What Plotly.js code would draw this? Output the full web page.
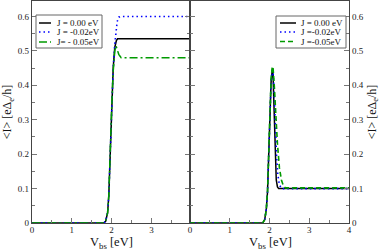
<!DOCTYPE html>
<html>
<head>
<meta charset="utf-8">
<script src="https://cdn.plot.ly/plotly-3.0.1.min.js"></script>
<style>html,body{margin:0;padding:0;background:#fff;}#chart{width:382px;height:251px;}</style>
</head>
<body>
<div id="chart"></div>
<script>
// ---- data ----
var legendLeft = ["J = 0.00 eV", "J = -0.02eV", "J= - 0.05eV"];
var legendRight = ["J = 0.00 eV", "J =-0.02eV", "J =-0.05eV"];
var xAxisTitle = "V<sub>bs</sub> [eV]";
var yAxisTitle = "&lt;I&gt; [eΔ<sub>e</sub>/h]";

var xL0 = [0, 1.8, 1.85, 1.9, 1.93, 1.96, 2.0, 2.04, 2.08, 2.12, 2.15, 3.97];
var yL0 = [0, 0, 0.005, 0.03, 0.08, 0.2, 0.33, 0.45, 0.51, 0.53, 0.535, 0.535];
var xL1 = [0, 1.8, 1.85, 1.9, 1.93, 1.96, 2.0, 2.04, 2.08, 2.11, 2.14, 2.18, 2.22, 3.97];
var yL1 = [0, 0, 0.005, 0.03, 0.08, 0.2, 0.33, 0.45, 0.52, 0.56, 0.585, 0.598, 0.60, 0.60];
var xL2 = [0, 1.8, 1.85, 1.9, 1.93, 1.96, 2.0, 2.04, 2.08, 2.11, 2.14, 2.18, 2.24, 3.97];
var yL2 = [0, 0, 0.005, 0.03, 0.08, 0.2, 0.33, 0.44, 0.50, 0.515, 0.505, 0.49, 0.48, 0.48];

var xR0 = [0, 1.83, 1.88, 1.92, 1.95, 1.98, 2.01, 2.04, 2.07, 2.09, 2.11, 2.13, 2.15, 2.17, 2.2, 2.23, 4];
var yR0 = [0, 0, 0.01, 0.04, 0.09, 0.2, 0.32, 0.41, 0.445, 0.43, 0.35, 0.25, 0.17, 0.125, 0.105, 0.1, 0.1];
var xR1 = [0, 1.83, 1.88, 1.92, 1.95, 1.98, 2.01, 2.04, 2.07, 2.09, 2.12, 2.15, 2.18, 2.21, 2.25, 2.31, 4];
var yR1 = [0, 0, 0.01, 0.04, 0.09, 0.2, 0.32, 0.41, 0.45, 0.44, 0.37, 0.27, 0.19, 0.14, 0.11, 0.1, 0.1];
var xR2 = [0, 1.83, 1.88, 1.92, 1.95, 1.98, 2.01, 2.04, 2.07, 2.09, 2.12, 2.16, 2.2, 2.25, 2.3, 2.35, 2.4, 4];
var yR2 = [0, 0, 0.01, 0.04, 0.09, 0.2, 0.32, 0.42, 0.455, 0.45, 0.40, 0.31, 0.23, 0.16, 0.125, 0.108, 0.102, 0.102];

// ---- styles ----
var FONT = "'Liberation Serif', 'Times New Roman', serif";
var styleL = [
  {color: "#000000", dash: "solid", width: 1.5},
  {color: "#0000ff", dash: "1.5px,3px", width: 1.6},
  {color: "#009a00", dash: "8px,3px,2px,3px", width: 1.5}
];
var styleR = [
  {color: "#000000", dash: "solid", width: 1.5},
  {color: "#0000ff", dash: "1.5px,3px", width: 1.6},
  {color: "#009a00", dash: "5px,3px", width: 1.6}
];

var leftX = [xL0, xL1, xL2], leftY = [yL0, yL1, yL2];
var rightX = [xR0, xR1, xR2], rightY = [yR0, yR1, yR2];

var traces = [];
for (var i = 0; i < 3; i++) {
  traces.push({x: leftX[i], y: leftY[i], xaxis: "x", yaxis: "y", mode: "lines",
    name: legendLeft[i], showlegend: false, line: styleL[i]});
}
for (var j = 0; j < 3; j++) {
  traces.push({x: rightX[j], y: rightY[j], xaxis: "x2", yaxis: "y2", mode: "lines",
    name: legendRight[j], showlegend: false, line: styleR[j]});
}

var W = 382, H = 251, ML = 32, MR = 33, MT = 1, MB = 28;
var PW = W - ML - MR, PH = H - MT - MB;
function px(x) { return (x - ML) / PW; }
function py(y) { return (H - MB - y) / PH; }
var split = px(190);

var axisCommon = {
  showgrid: false, zeroline: false, showline: true, linecolor: "#444", linewidth: 1.2,
  ticks: "inside", ticklen: 5, tickcolor: "#777", tickwidth: 1,
  tickfont: {family: FONT, size: 9, color: "#222"},
  automargin: false
};
function ax(extra) { var o = {}; for (var k in axisCommon) o[k] = axisCommon[k]; for (var k2 in extra) o[k2] = extra[k2]; return o; }

var yTitle = {text: yAxisTitle, font: {family: FONT, size: 12, color: "#111"}, standoff: 4};

// manual legends + x titles
var shapes = [], annotations = [];
function makeLegend(box, rowsY, lineX0, lineX1, textX, labels, styles) {
  shapes.push({type: "rect", xref: "paper", yref: "paper",
    x0: px(box[0]), x1: px(box[1]), y0: py(box[3]), y1: py(box[2]),
    line: {color: "#666", width: 1}, fillcolor: "#fff"});
  for (var r = 0; r < labels.length; r++) {
    shapes.push({type: "line", xref: "paper", yref: "paper",
      x0: px(lineX0), x1: px(lineX1), y0: py(rowsY[r]), y1: py(rowsY[r]),
      line: {color: styles[r].color, dash: styles[r].dash, width: styles[r].width}});
    annotations.push({xref: "paper", yref: "paper", x: px(textX), y: py(rowsY[r]),
      xanchor: "left", yanchor: "middle", showarrow: false, text: labels[r],
      font: {family: FONT, size: 9, color: "#111"}});
  }
}
makeLegend([36, 102, 15, 48], [23, 32, 42], 39, 51, 55, legendLeft, styleL);
makeLegend([276, 346, 16, 48], [23, 32, 41.5], 280, 296, 299, legendRight, styleR);

annotations.push({xref: "paper", yref: "paper", x: px(111), y: py(252), xanchor: "center", yanchor: "bottom",
  showarrow: false, text: xAxisTitle, borderpad: 0, font: {family: FONT, size: 12.5, color: "#111"}});
annotations.push({xref: "paper", yref: "paper", x: px(270), y: py(252), xanchor: "center", yanchor: "bottom",
  showarrow: false, text: xAxisTitle, borderpad: 0, font: {family: FONT, size: 12.5, color: "#111"}});

var layout = {
  width: W, height: H,
  margin: {l: ML, r: MR, t: MT, b: MB, pad: 0},
  paper_bgcolor: "#fff", plot_bgcolor: "#fff",
  showlegend: false,
  font: {family: FONT},
  xaxis: ax({domain: [0, split], range: [0, 3.97], dtick: 1, tick0: 0, mirror: true,
    ticklabelstandoff: -2,
    minor: {dtick: 0.5, ticks: "inside", ticklen: 3, tickcolor: "#777"},
    anchor: "y"}),
  xaxis2: ax({domain: [split, 1], range: [0, 4], dtick: 1, tick0: 0, mirror: true,
    ticklabelstandoff: -2,
    minor: {dtick: 0.5, ticks: "inside", ticklen: 3, tickcolor: "#777"},
    anchor: "y2"}),
  yaxis: ax({range: [0, 0.645], dtick: 0.1, tick0: 0, mirror: "ticks", anchor: "x",
    minor: {dtick: 0.05, ticks: "inside", ticklen: 3, tickcolor: "#777"},
    title: yTitle}),
  yaxis2: ax({range: [0, 0.645], dtick: 0.1, tick0: 0, mirror: "ticks", anchor: "x2", side: "right",
    minor: {dtick: 0.05, ticks: "inside", ticklen: 3, tickcolor: "#777"},
    title: yTitle}),
  shapes: shapes,
  annotations: annotations
};

Plotly.newPlot("chart", traces, layout, {staticPlot: true, displayModeBar: false});
</script>
</body>
</html>
